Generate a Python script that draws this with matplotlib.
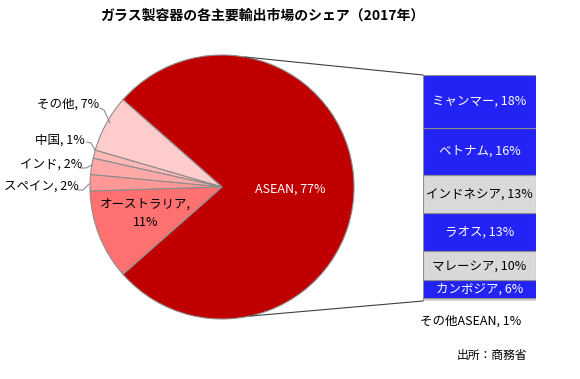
import numpy as np
import matplotlib
matplotlib.use("Agg")
import matplotlib.pyplot as plt
from matplotlib.patches import ConnectionPatch

plt.rcParams['font.family'] = ['Noto Sans CJK JP', 'DejaVu Sans']

title = "ガラス製容器の各主要輸出市場のシェア（2017年）"
source = "出所：商務省"

pie_labels = ["ASEAN", "その他", "中国", "インド", "スペイン", "オーストラリア"]
pie_values = [77, 7, 1, 2, 2, 11]
pie_colors = ["#C00000", "#FFCCCC", "#FFB8B8", "#FFA8A8", "#FF9797", "#FF7171"]

bar_labels = ["ミャンマー", "ベトナム", "インドネシア", "ラオス", "マレーシア", "カンボジア", "その他ASEAN"]
bar_values = [18, 16, 13, 13, 10, 6, 1]
bar_colors = ["#2323F5", "#2323F5", "#D9D9D9", "#2323F5", "#D9D9D9", "#2323F5", "#D9D9D9"]

W, H = 580, 379
fig = plt.figure(figsize=(W / 100, H / 100), dpi=100)

def px_axes(x0, y0, x1, y1):
    return fig.add_axes([x0 / W, (H - y1) / H, (x1 - x0) / W, (y1 - y0) / H])

# Pie
axp = px_axes(90, 55, 354, 319)
start = -pie_values[0] / 100 * 180
wedges, _ = axp.pie(pie_values, colors=pie_colors, startangle=start, counterclock=True,
                    radius=1, wedgeprops=dict(edgecolor="#8C8C8C", linewidth=0.8))
axp.set_xlim(-1, 1)
axp.set_ylim(-1, 1)
axp.set_aspect('auto')
axp.axis('off')

fs = 9
axp.text(0.52, -0.02, f"{pie_labels[0]}, {pie_values[0]}%", color="white", fontsize=fs,
         ha="center", va="center")
axp.text(-0.58, -0.2, f"{pie_labels[5]},\n{pie_values[5]}%", color="black", fontsize=fs,
         ha="center", va="center", linespacing=1.5)

# outside labels: (text x, text y) in pixel coords, leader points in pixel coords
def pxd(x, y):
    return ((x - 222) / 132, (187 - y) / 132)

outs = [(1, (68, 104), [(100, 108), (104, 110), (110, 123)]),
        (2, (60, 140), [(87, 142), (91, 143), (95, 150)]),
        (3, (51, 165), [(80, 168), (86, 168), (92, 165)]),
        (4, (41, 187), [(78, 190), (83, 190), (89, 184)])]
for i, (tx, ty), pts in outs:
    x, y = pxd(tx, ty)
    axp.text(x, y, f"{pie_labels[i]}, {pie_values[i]}%", fontsize=fs, ha="center",
             va="center", clip_on=False)
    xs, ys = zip(*[pxd(a, b) for a, b in pts])
    axp.plot(xs, ys, color="#8C8C8C", lw=0.8, clip_on=False)

# Bar
axb = px_axes(423, 75, 536, 301)
bottoms = np.cumsum([0] + bar_values[::-1])[:-1]
for lab, v, c, b in zip(bar_labels[::-1], bar_values[::-1], bar_colors[::-1], bottoms):
    axb.bar(0, v, bottom=b, width=1, color=c, edgecolor="#8C8C8C", linewidth=0.8)
    if lab != "その他ASEAN":
        axb.text(0, b + v / 2, f"{lab}, {v}%", ha="center", va="center", fontsize=fs,
                 color="white" if c != "#D9D9D9" else "black")
    else:
        axb.text(-0.08, b - 7.0, f"{lab}, {v}%", ha="center", va="center", fontsize=fs,
                 color="black", clip_on=False)
axb.set_xlim(-0.5, 0.5)
axb.set_ylim(0, sum(bar_values))
axb.axis('off')

# connection lines
a1, a2 = np.deg2rad(80), np.deg2rad(-78)
for ang, yb in [(a1, sum(bar_values)), (a2, 0)]:
    con = ConnectionPatch(xyA=(np.cos(ang), np.sin(ang)), coordsA=axp.transData,
                          xyB=(-0.5, yb), coordsB=axb.transData, color="#404040", lw=0.8)
    fig.add_artist(con)

fig.text(262 / W, 1 - 16 / H, title, ha="center", va="center", fontsize=10, fontweight="bold")
fig.text(492 / W, 1 - 355 / H, source, ha="center", va="center", fontsize=8.5)

fig.savefig("out.png", dpi=100)
